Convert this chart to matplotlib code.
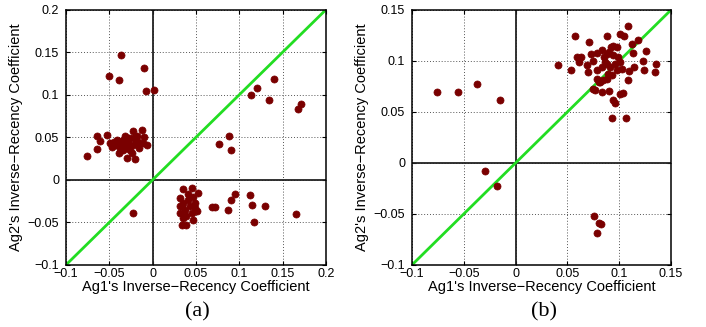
import numpy as np
import matplotlib
matplotlib.use("Agg")
import matplotlib.pyplot as plt

plt.rcParams['font.family'] = ['Liberation Sans', 'DejaVu Sans']

# panel (a): inverse-recency coefficients, Ag1 vs Ag2
a_x = [-0.0365, -0.050, -0.0385, -0.010, -0.0077, 0.002,
       -0.0762, -0.0646, -0.064, -0.0608, -0.053, -0.049, -0.0446, -0.0415,
       -0.0377, -0.034, -0.0315, -0.028, -0.023, -0.0223, -0.0185, -0.0154,
       -0.0127, -0.010, -0.0069, -0.0115, -0.0385, -0.029, -0.0204, -0.034,
       -0.026, -0.023, -0.036, -0.043, -0.032, -0.029, -0.0377, -0.041,
       -0.027, -0.0185, -0.0165, -0.024, -0.0473,
       0.0353, 0.045, 0.0527, 0.0334, 0.039, 0.0469, 0.0315, 0.0315, 0.0315,
       0.0353, 0.0373, 0.041, 0.043, 0.045, 0.049, 0.051, 0.047, 0.039,
       0.0353, 0.0334, 0.041, 0.049,
       0.068, 0.0719, 0.0873, 0.0904, 0.095, 0.113, 0.1142, 0.117, 0.130, 0.166,
       0.114, 0.121, 0.134, 0.1396, 0.1684, 0.1715, 0.0877, 0.0769, 0.0907,
       -0.0223]
a_y = [0.147, 0.1216, 0.118, 0.131, 0.104, 0.106,
       0.0286, 0.0365, 0.051, 0.0459, 0.0525, 0.043, 0.044, 0.041,
       0.045, 0.047, 0.052, 0.043, 0.057, 0.049, 0.043, 0.037,
       0.059, 0.050, 0.041, 0.043, 0.031, 0.026, 0.024, 0.035,
       0.035, 0.041, 0.039, 0.041, 0.041, 0.037, 0.038, 0.047,
       0.049, 0.051, 0.045, 0.031, 0.039,
       -0.011, -0.009, -0.0157, -0.053, -0.053, -0.047, -0.0216, -0.031, -0.039,
       -0.0275, -0.035, -0.0235, -0.031, -0.039, -0.0275, -0.037, -0.0196, -0.043,
       -0.045, -0.031, -0.0165, -0.033,
       -0.032, -0.032, -0.036, -0.0235, -0.0169, -0.018, -0.029, -0.050, -0.031, -0.040,
       0.100, 0.1086, 0.0937, 0.119, 0.083, 0.089, 0.051, 0.042, 0.035,
       -0.039]

# panel (b)
b_x = [-0.0757, -0.0557, -0.0374, -0.0148, -0.0293, -0.018,
       0.0754, 0.080, 0.0825, 0.078,
       0.0405, 0.053, 0.057, 0.0707, 0.0878, 0.1007, 0.1046, 0.1087, 0.1185,
       0.1126, 0.1136, 0.126, 0.123, 0.135, 0.134, 0.124, 0.1146, 0.1097,
       0.108, 0.1034, 0.101, 0.0943, 0.096, 0.0933, 0.1066, 0.090, 0.0837,
       0.077, 0.075, 0.080, 0.078, 0.0589, 0.0615, 0.0627, 0.0685, 0.0702,
       0.073, 0.078, 0.083, 0.085, 0.088, 0.0917, 0.094, 0.0975, 0.099,
       0.1007, 0.096, 0.091, 0.0895, 0.0926, 0.0878, 0.0846, 0.0814, 0.0975,
       0.1023, 0.083, 0.078, 0.0744, 0.088, 0.094, 0.090, 0.0862]
b_y = [0.069, 0.0694, 0.0772, 0.0619, -0.0078, -0.0228,
       -0.0518, -0.0593, -0.060, -0.069,
       0.096, 0.0906, 0.124, 0.118, 0.124, 0.1265, 0.124, 0.1337, 0.1205,
       0.116, 0.108, 0.110, 0.100, 0.0968, 0.089, 0.0906, 0.094, 0.090,
       0.081, 0.0684, 0.0678, 0.0613, 0.0587, 0.0443, 0.0437, 0.070, 0.0694,
       0.071, 0.0727, 0.079, 0.0826, 0.104, 0.099, 0.1035, 0.0955, 0.089,
       0.107, 0.108, 0.111, 0.1035, 0.107, 0.1135, 0.115, 0.1135, 0.1037,
       0.099, 0.097, 0.094, 0.0875, 0.0857, 0.0826, 0.081, 0.079, 0.0906,
       0.0922, 0.094, 0.0906, 0.100, 0.097, 0.1053, 0.1085, 0.0988]

a_ticks_x = [-0.1, -0.05, 0, 0.05, 0.1, 0.15, 0.2]
a_ticks_y = [-0.1, -0.05, 0, 0.05, 0.1, 0.15, 0.2]
b_ticks = [-0.1, -0.05, 0, 0.05, 0.1, 0.15]


def fmt(v):
    s = '%g' % v
    return s.replace('-', '\u2212')


def panel(ax, x, y, xt, yt):
    lo, hi = xt[0], xt[-1]
    ax.set_xlim(lo, hi)
    ax.set_ylim(yt[0], yt[-1])
    ax.set_xticks(xt)
    ax.set_yticks(yt)
    ax.set_xticklabels([fmt(v) for v in xt])
    ax.set_yticklabels([fmt(v) for v in yt])
    ax.grid(True, linestyle=(0, (1, 2)), color='#555555', linewidth=0.7)
    ax.set_axisbelow(True)
    ax.axhline(0, color='#222222', linewidth=1.3, zorder=1)
    ax.axvline(0, color='#222222', linewidth=1.3, zorder=1)
    ax.plot([lo, hi], [lo, hi], color='#22dd22', linewidth=2, zorder=2)
    ax.scatter(x, y, s=26, color='#7a0000', edgecolors='#7a0000',
               linewidths=0.5, zorder=3)
    ax.tick_params(direction='in', top=True, right=True, length=3,
                   labelsize=9)
    ax.tick_params(axis='x', pad=2)
    ax.tick_params(axis='y', pad=5)
    for sp in ax.spines.values():
        sp.set_linewidth(1.1)
    ax.set_xlabel("Ag1's Inverse\u2212Recency Coefficient", fontsize=10.5,
                  labelpad=0)
    ax.set_ylabel("Ag2's Inverse\u2212Recency Coefficient", fontsize=10.5,
                  labelpad=3)


fig = plt.figure(figsize=(7.06, 3.27), dpi=100)
ax1 = fig.add_axes([0.0935, 0.19, 0.368, 0.78])
ax2 = fig.add_axes([0.5836, 0.19, 0.367, 0.78])

panel(ax1, a_x, a_y, a_ticks_x, a_ticks_y)
panel(ax2, b_x, b_y, b_ticks, b_ticks)

# sub-figure captions
fig.text(0.280, 0.045, '(a)', ha='center', va='center', fontsize=16,
         family='Liberation Serif')
fig.text(0.770, 0.045, '(b)', ha='center', va='center', fontsize=16,
         family='Liberation Serif')

fig.savefig('out.png', dpi=100)
